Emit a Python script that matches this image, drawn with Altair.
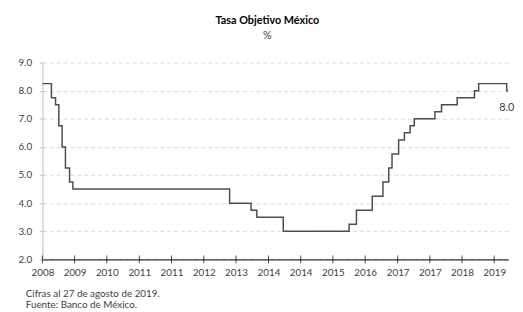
import altair as alt
import pandas as pd

# Banxico target rate decisions shown in the chart (step function)
change_dates = [
    "2008-11-01", "2009-01-16", "2009-02-20", "2009-03-20", "2009-04-17",
    "2009-05-15", "2009-06-19", "2009-07-17", "2013-03-08", "2013-09-06",
    "2013-10-25", "2014-06-06", "2015-12-17", "2016-02-17", "2016-06-30",
    "2016-09-29", "2016-11-17", "2016-12-15", "2017-02-09", "2017-03-30",
    "2017-05-18", "2017-06-22", "2017-12-14", "2018-02-08", "2018-06-21",
    "2018-11-15", "2018-12-20", "2019-08-15",
]
rates = [
    8.25, 7.75, 7.50, 6.75, 6.00,
    5.25, 4.75, 4.50, 4.00, 3.75,
    3.50, 3.00, 3.25, 3.75, 4.25,
    4.75, 5.25, 5.75, 6.25, 6.50,
    6.75, 7.00, 7.25, 7.50, 7.75,
    8.00, 8.25, 8.00,
]
end_date = "2019-08-27"

# x-axis ticks every 9 months, labelled with their year
tick_years = [2008, 2009, 2010, 2011, 2011, 2012, 2013, 2014, 2014, 2015, 2016, 2017, 2017, 2018, 2019]
tick_months = [11, 8, 5, 2, 11, 8, 5, 2, 11, 8, 5, 2, 11, 8, 5]
y_ticks = [2, 3, 4, 5, 6, 7, 8, 9]
y_min = 2

title_text = "Tasa Objetivo México"
subtitle_text = "%"
footer_lines = ["Cifras al 27 de agosto de 2019.", "Fuente: Banco de México."]

FONT = "Lato"
TXT = "#404040"

df = pd.DataFrame({"fecha": change_dates + [end_date], "tasa": rates + [rates[-1]]})
df_last = df.tail(1)
df_ticks = pd.DataFrame({
    "fecha": [f"{y}-{m:02d}-01" for y, m in zip(tick_years, tick_months)],
    "tasa": [y_min] * len(tick_years),
})
df_foot = pd.DataFrame({"t": ["|".join(footer_lines)]})

x_enc = alt.X(
    "fecha:T",
    scale=alt.Scale(nice=False),
    axis=alt.Axis(
        values=[alt.DateTime(year=y, month=m, date=1) for y, m in zip(tick_years, tick_months)],
        format="%Y",
        title=None,
        grid=False,
        domainColor="black",
        domainWidth=1,
        tickSize=0,
        labelPadding=8,
        labelOverlap=False,
        labelFlush=False,
        labelFont=FONT,
        labelFontSize=10,
        labelColor=TXT,
    ),
)
y_enc = alt.Y(
    "tasa:Q",
    scale=alt.Scale(domain=[2, 9], nice=False, zero=False),
    axis=alt.Axis(
        values=y_ticks,
        format=".1f",
        title=None,
        grid=True,
        gridColor="#d9d9d9",
        gridDash=[4, 3],
        domainColor="#bfbfbf",
        tickColor="#bfbfbf",
        tickSize=3,
        labelPadding=8,
        labelOverlap=False,
        labelFlush=False,
        labelFont=FONT,
        labelFontSize=10,
        labelColor=TXT,
    ),
)

line = alt.Chart(df).mark_line(interpolate="step-after", color="#4d4d4d", strokeWidth=1.5).encode(
    x=x_enc, y=y_enc
)

xticks = alt.Chart(df_ticks).mark_tick(orient="vertical", size=8, thickness=1, color="black").encode(
    x=x_enc, y=y_enc
)

last_label = alt.Chart(df_last).mark_text(
    align="left", baseline="middle", dx=-9, dy=18, font=FONT, fontSize=11, color=TXT
).encode(x=x_enc, y=y_enc, text=alt.Text("tasa:Q", format=".1f"))

footer = alt.Chart(df_foot).mark_text(
    align="left", baseline="middle", font=FONT, fontSize=10, color=TXT, lineBreak="|", lineHeight=11
).encode(x=alt.value(-17), y=alt.value(235), text="t:N")

chart = (
    alt.layer(line, xticks, last_label, footer)
    .properties(
        width=473,
        height=200,
        autosize=alt.AutoSizeParams(type="none"),
        padding={"left": 35, "top": 53, "right": 7, "bottom": 51},
        title=alt.TitleParams(
            title_text,
            subtitle=subtitle_text,
            font=FONT,
            fontSize=11,
            fontWeight="bold",
            color="black",
            subtitleFont=FONT,
            subtitleFontSize=11,
            subtitleColor=TXT,
            subtitlePadding=4,
            anchor="middle",
            dx=-8,
            offset=17,
        ),
    )
    .configure_view(stroke=None)
)

chart.save("out.html", embed_options={"renderer": "svg", "actions": False})
